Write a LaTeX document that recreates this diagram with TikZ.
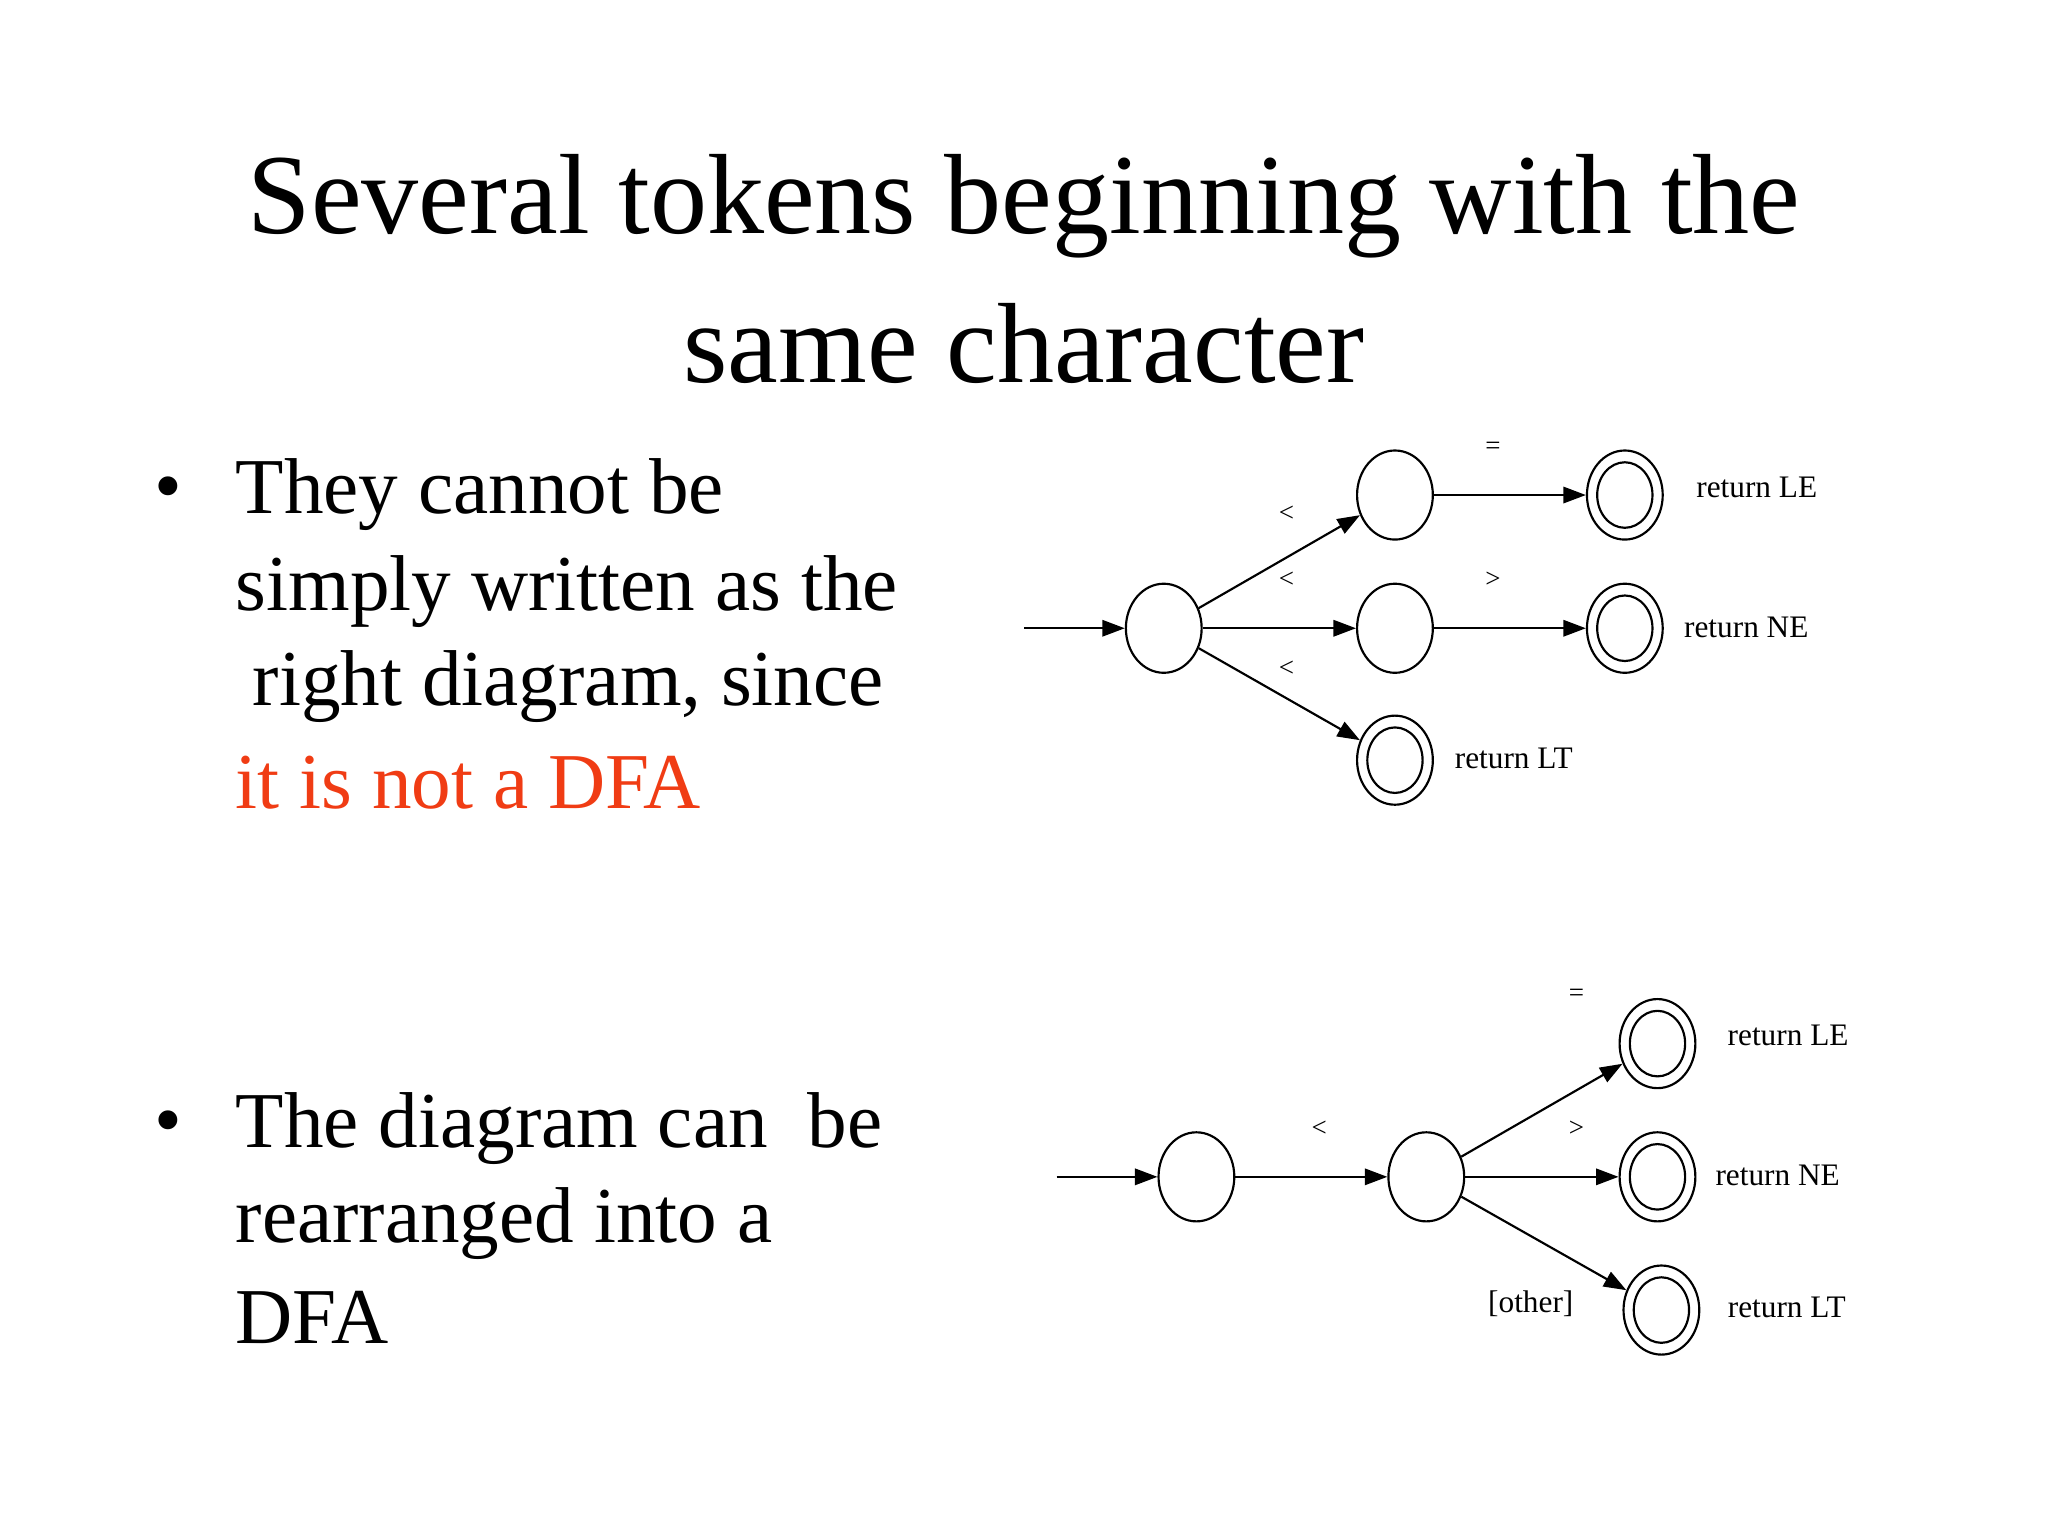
\documentclass[tikz,border=0pt]{standalone}
\usepackage{fontspec}
\setmainfont{Liberation Serif}
\usetikzlibrary{shapes.geometric,arrows.meta}
\definecolor{dfared}{RGB}{240,60,20}
\begin{document}
\begin{tikzpicture}[x=0.012755cm,y=-0.012755cm,
  st/.style={draw,ellipse,minimum width=0.74cm,minimum height=0.87cm,inner sep=0pt,line width=0.6pt},
  inn/.style={draw,ellipse,minimum width=0.54cm,minimum height=0.64cm,inner sep=0pt,line width=0.6pt},
  ar/.style={-{Triangle[length=2.2mm,width=1.6mm]},line width=0.6pt},
  lab/.style={font=\fontsize{7.5}{9}\selectfont},
  rl/.style={font=\fontsize{8.7}{10}\selectfont},
  body/.style={anchor=west,font=\fontsize{22}{26}\selectfont,inner sep=0pt}]
\useasboundingbox (0,0) rectangle (1568,1176);
\node (t1) at (784,158) {\fontsize{31.7}{36}\selectfont Several tokens beginning with the};
\node (t2) at (784,263) {\fontsize{31.7}{36}\selectfont same character};
\node[body] (b1) at (118,379) {•};
\node[body] (l1) at (180,379) {They cannot be};
\node[body] (l2) at (180,453) {simply written as the};
\node[body] (l3) at (193,526) {right diagram, since};
\node[body,text=dfared] (l4) at (180,599) {it is not a DFA};
\node[body] (b2) at (118,864) {•};
\node[body] (m1) at (180,864) {The diagram can\ \ be};
\node[body] (m2) at (180,937) {rearranged into a};
\node[body] (m3) at (180,1009) {DFA};
% top diagram
\coordinate (e1) at (784,481);
\node[st] (s0) at (891,481) {};
\node[st] (s1) at (1068,379) {};
\node[st] (s2) at (1068,481) {};
\node[st] (s3) at (1068,582) {}; \node[inn] at (s3) {};
\node[st] (s4) at (1244,379) {}; \node[inn] at (s4) {};
\node[st] (s5) at (1244,481) {}; \node[inn] at (s5) {};
\draw[ar] (e1) -- (s0);
\draw[ar] (s0) -- (s1);
\draw[ar] (s0) -- (s2);
\draw[ar] (s0) -- (s3);
\draw[ar] (s1) -- (s4);
\draw[ar] (s2) -- (s5);
\node[lab] at (985,393) {<};
\node[lab] at (985,444) {<};
\node[lab] at (985,512) {<};
\node[lab] at (1143,343) {=};
\node[lab] at (1143,444) {>};
\node[rl] at (1345,373) {return LE};
\node[rl] at (1337,480) {return NE};
\node[rl] at (1159,581) {return LT};
% bottom diagram
\coordinate (e2) at (809,901);
\node[st] (u0) at (916,901) {};
\node[st] (u1) at (1092,901) {};
\node[st] (u2) at (1269,799) {}; \node[inn] at (u2) {};
\node[st] (u3) at (1269,901) {}; \node[inn] at (u3) {};
\node[st] (u4) at (1272,1003) {}; \node[inn] at (u4) {};
\draw[ar] (e2) -- (u0);
\draw[ar] (u0) -- (u1);
\draw[ar] (u1) -- (u2);
\draw[ar] (u1) -- (u3);
\draw[ar] (u1) -- (u4);
\node[lab] at (1010,864) {<};
\node[lab] at (1207,762) {=};
\node[lab] at (1207,864) {>};
\node[rl] at (1172,998) {[other]};
\node[rl] at (1369,793) {return LE};
\node[rl] at (1361,900) {return NE};
\node[rl] at (1368,1001) {return LT};
\end{tikzpicture}
\end{document}
